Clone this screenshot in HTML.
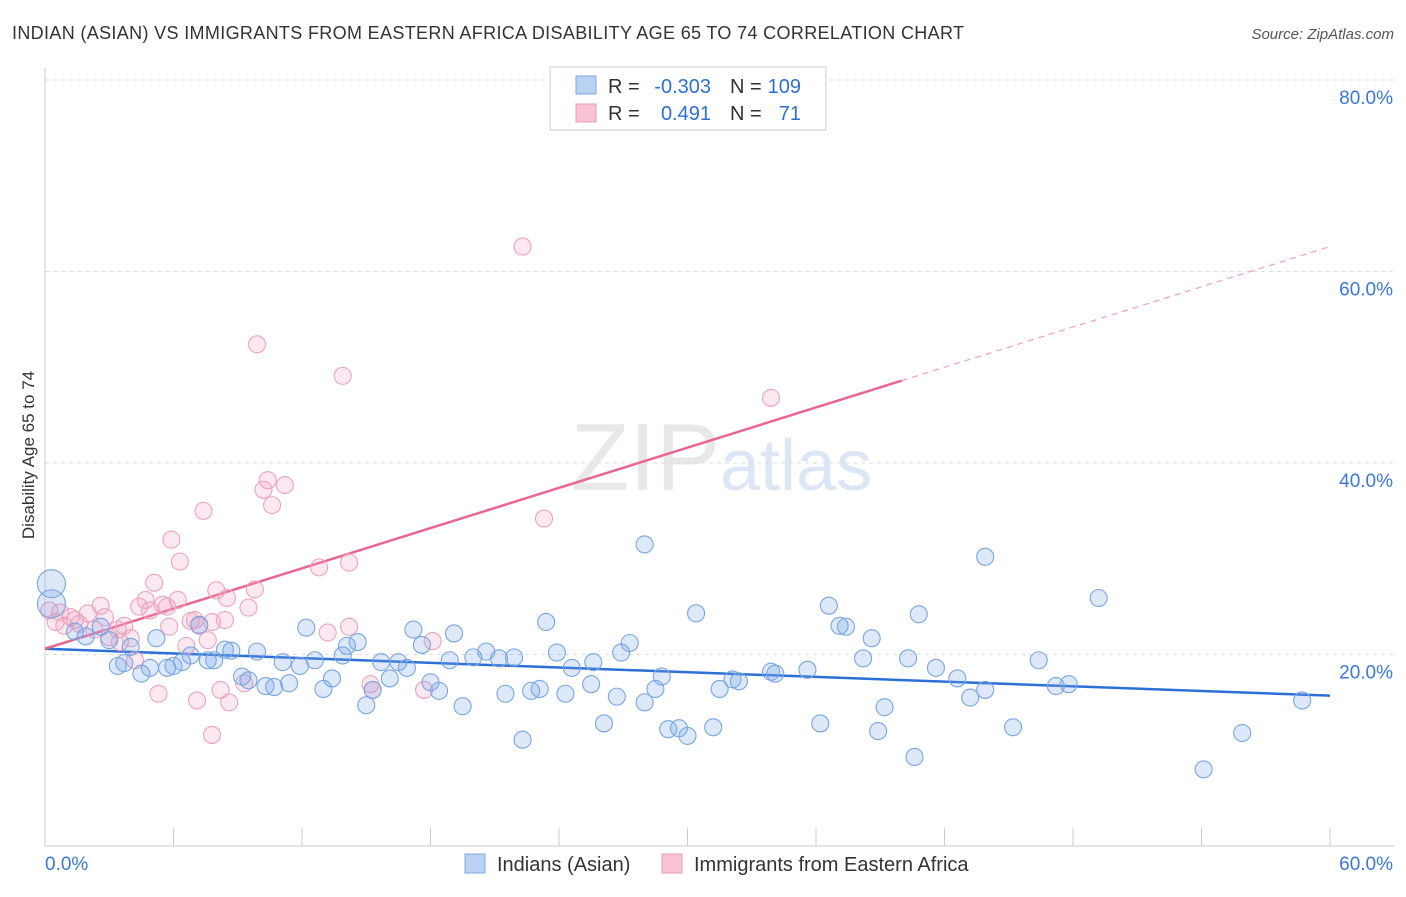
<!DOCTYPE html>
<html><head><meta charset="utf-8"><style>
body{margin:0;background:#fff;font-family:"Liberation Sans",sans-serif;}
svg text{font-family:"Liberation Sans",sans-serif;}
</style></head><body>
<svg id="chart" width="1406" height="892" xmlns="http://www.w3.org/2000/svg">
<text x="12" y="39" font-size="18" fill="#333" textLength="952">INDIAN (ASIAN) VS IMMIGRANTS FROM EASTERN AFRICA DISABILITY AGE 65 TO 74 CORRELATION CHART</text>
<text x="1394" y="39" font-size="15" fill="#555" font-style="italic" text-anchor="end">Source: ZipAtlas.com</text>
<text x="720" y="490" font-size="96" fill="#e8e8ea" text-anchor="end" font-family="Liberation Serif">ZIP</text>
<text x="720" y="490" font-size="72" fill="#dce6f4">atlas</text>
<text transform="translate(34,455) rotate(-90)" font-size="17" fill="#333" text-anchor="middle">Disability Age 65 to 74</text>
<g id="grid"></g><g id="axes"></g><g id="lines"></g><g id="pts"></g>
<g>
<rect x="550" y="67" width="276" height="63" fill="#fff" stroke="#ccc"/>
<rect x="576" y="76" width="20" height="18" fill="#b9d2f3" stroke="#7fa8e0"/>
<rect x="576" y="104" width="20" height="18" fill="#f9c3d4" stroke="#ea9ab5"/>
<text x="608" y="93" font-size="20" fill="#333">R =</text>
<text x="711" y="93" font-size="20" fill="#2e6fd6" text-anchor="end">-0.303</text>
<text x="730" y="93" font-size="20" fill="#333">N =</text>
<text x="801" y="93" font-size="20" fill="#2e6fd6" text-anchor="end">109</text>
<text x="608" y="120" font-size="20" fill="#333">R =</text>
<text x="711" y="120" font-size="20" fill="#2e6fd6" text-anchor="end">0.491</text>
<text x="730" y="120" font-size="20" fill="#333">N =</text>
<text x="801" y="120" font-size="20" fill="#2e6fd6" text-anchor="end">71</text>
</g>
<g>
<rect x="465" y="854" width="20" height="19" fill="#b9d2f3" stroke="#7fa8e0"/>
<text x="497" y="871" font-size="20" fill="#333">Indians (Asian)</text>
<rect x="662" y="854" width="20" height="19" fill="#f9c3d4" stroke="#ea9ab5"/>
<text x="694" y="871" font-size="20" fill="#333">Immigrants from Eastern Africa</text>
</g>
</svg>
<script>
const yTicks=[20,40,60,80];
const yTickLabels=["20.0%","40.0%","60.0%","80.0%"];
const xTicks=[0,6,12,18,24,30,36,42,48,54,60];
const blueX=[0.3,0.3,1.4,1.9,2.6,3.0,3.4,3.7,4.0,4.5,4.9,5.2,5.7,6.0,6.4,6.8,7.2,7.6,7.9,8.4,8.7,9.2,9.5,9.9,10.3,10.7,11.1,11.4,11.9,12.2,12.6,13.0,13.4,13.9,14.1,14.6,15.0,15.3,15.7,16.1,16.5,16.9,17.2,17.6,18.0,18.4,18.9,19.1,19.5,20.0,20.6,21.2,21.5,21.9,22.3,22.7,23.1,23.4,23.9,24.3,24.6,25.5,25.6,26.1,26.7,26.9,27.3,28.0,28.0,28.5,28.8,29.1,29.6,30.0,30.4,31.2,31.5,32.1,32.4,33.9,34.1,35.6,36.2,36.6,37.1,37.4,38.2,38.6,38.9,39.2,40.3,40.6,40.8,41.6,42.6,43.2,43.9,43.9,45.2,46.4,47.2,47.8,49.2,54.1,55.9,58.7];
const blueY=[27.4,25.3,22.4,21.9,22.9,21.5,18.8,19.1,20.8,18.0,18.6,21.7,18.6,18.8,19.2,19.9,23.1,19.4,19.4,20.5,20.4,17.7,17.3,20.3,16.7,16.6,19.2,17.0,18.8,22.8,19.4,16.4,17.5,19.9,20.9,21.3,14.7,16.3,19.2,17.5,19.2,18.6,22.6,21.0,17.1,16.2,19.4,22.2,14.6,19.7,20.3,19.6,15.9,19.7,11.1,16.2,16.4,23.4,20.2,15.9,18.6,16.9,19.2,12.8,15.6,20.2,21.2,15.0,31.5,16.4,17.7,12.2,12.3,11.5,24.3,12.4,16.4,17.4,17.2,18.2,18.0,18.4,12.8,25.1,23.0,22.9,19.6,21.7,12.0,14.5,19.6,9.3,24.2,18.6,17.5,15.5,30.2,16.3,12.4,19.4,16.7,16.9,25.9,8.0,11.8,15.2];
const blueSizes=[14,14];
const pinkX=[0.2,0.5,0.7,0.9,1.2,1.4,1.6,2.0,2.3,2.6,2.8,3.0,3.4,3.5,3.7,4.0,4.2,4.4,4.7,4.9,5.1,5.3,5.5,5.7,5.8,5.9,6.2,6.3,6.6,6.8,7.0,7.1,7.2,7.4,7.6,7.8,7.8,8.0,8.2,8.4,8.5,8.6,9.3,9.5,9.8,9.9,10.2,10.4,10.6,11.2,12.8,13.2,13.9,14.2,14.2,15.2,15.3,17.7,18.1,22.3,23.3,33.9];
const pinkY=[24.6,23.4,24.4,23.0,23.9,23.6,23.2,24.3,22.6,25.1,23.9,21.8,22.6,21.3,23.0,21.7,19.4,25.0,25.7,24.6,27.5,15.9,25.2,25.0,22.9,32.0,25.7,29.7,20.9,23.5,23.6,15.2,23.0,35.0,21.5,23.4,11.6,26.7,16.3,23.6,25.9,15.0,17.0,24.9,26.8,52.4,37.2,38.2,35.6,37.7,29.1,22.3,49.1,22.9,29.6,16.9,16.3,16.3,21.4,62.6,34.2,46.8];
const blueLine=[20.6,15.7];
const pinkLine=[20.6,62.6];
const pinkSolidEnd=40;

const NS="http://www.w3.org/2000/svg";
function X(v){return 45+v/60*1285;}
function Y(v){return 846-v/20*191.5;}
function mk(t,a,p){const e=document.createElementNS(NS,t);for(const k in a)e.setAttribute(k,a[k]);p.appendChild(e);return e;}
const grid=document.getElementById('grid'),axes=document.getElementById('axes'),lines=document.getElementById('lines'),pts=document.getElementById('pts');
yTicks.forEach((v,i)=>{
 const l=mk('line',{x1:45,x2:1394,y1:Y(v),y2:Y(v),stroke:'#ddd','stroke-dasharray':'4,4'},grid);
 
 
 const t=mk('text',{x:1393,y:Y(v)+24,'font-size':19,fill:'#3b78d8','text-anchor':'end'},axes);
 t.textContent=yTickLabels[i];
 
 
});
mk('line',{x1:45,x2:45,y1:68,y2:846,stroke:'#ccc'},axes);
const xa=mk('line',{x1:45,x2:1394,y1:846,y2:846,stroke:'#ccc'},axes);


xTicks.forEach(v=>{mk('line',{x1:X(v),x2:X(v),y1:828,y2:846,stroke:'#ccc'},axes);});
let t0=mk('text',{x:45,y:870,'font-size':19,fill:'#3b78d8'},axes);t0.textContent='0.0%';


let t1=mk('text',{x:1393,y:870,'font-size':19,fill:'#3b78d8','text-anchor':'end'},axes);t1.textContent='60.0%';


function drawPts(xs,ys,fill,stroke,name,sizes){
 xs.forEach((x,i)=>{
  const r=(sizes&&sizes[i])?sizes[i]:8.5;
  const c=mk('circle',{cx:X(x),cy:Y(ys[i]),r:r,fill:fill,stroke:stroke,'stroke-width':1.1},pts);
  
  
 });
}
drawPts(pinkX,pinkY,'rgba(244,165,195,0.25)','#eea3bd','pink-point');
drawPts(blueX,blueY,'rgba(120,165,230,0.25)','#79a6e3','blue-point',blueSizes);
const bl=mk('line',{x1:X(0),y1:Y(blueLine[0]),x2:X(60),y2:Y(blueLine[1]),stroke:'#2c6fd6','stroke-width':2.5},lines);


const pe=pinkLine[0]+(pinkLine[1]-pinkLine[0])*pinkSolidEnd/60;
const pl=mk('line',{x1:X(0),y1:Y(pinkLine[0]),x2:X(pinkSolidEnd),y2:Y(pe),stroke:'#e8668f','stroke-width':2.5},lines);


const pd=mk('line',{x1:X(pinkSolidEnd),y1:Y(pe),x2:X(60),y2:Y(pinkLine[1]),stroke:'#eea0b8','stroke-width':1.2,'stroke-dasharray':'6,5'},lines);


</script>
</body></html>
